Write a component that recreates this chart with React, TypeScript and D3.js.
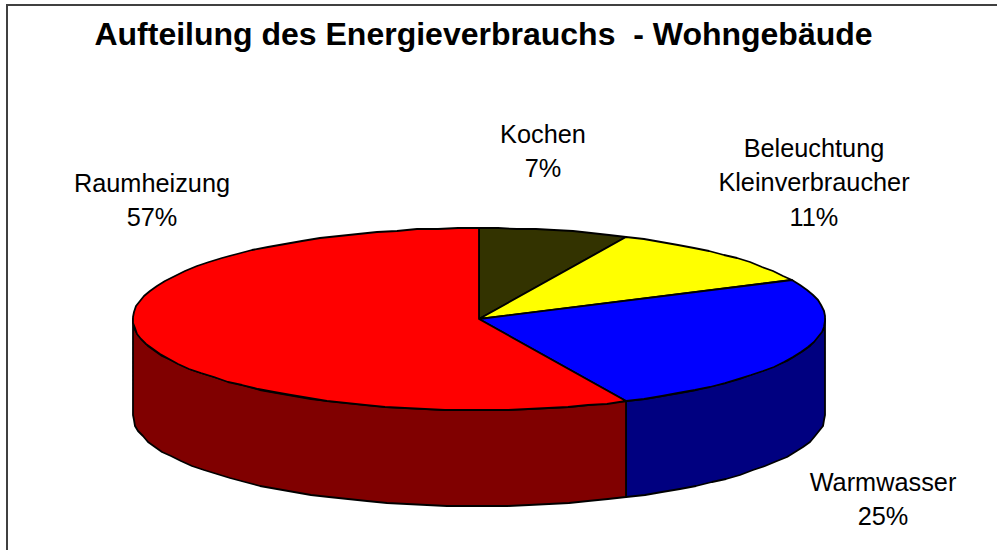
import React from "react";
import * as d3 from "d3";

const categories = ["Kochen", "Beleuchtung Kleinverbraucher", "Warmwasser", "Raumheizung"];
const values = [7, 11, 25, 57];
const topColors = ["#333300", "#ffff00", "#0000ff", "#ff0000"];
const sideColors = ["#1a1a00", "#808000", "#000080", "#800000"];
const labelLines = [["Kochen", "7%"], ["Beleuchtung", "Kleinverbraucher", "11%"], ["Warmwasser", "25%"], ["Raumheizung", "57%"]];
const labelAnchors: [number, number][] = [[543, 143], [814, 157], [883, 491], [152, 192]];
const title = "Aufteilung des Energieverbrauchs  - Wohngebäude";

const W = 997, H = 550;
const FONT = "'Liberation Sans', Arial, sans-serif";
const cx = 479, cy = 319, rx = 346, ry = 91, depth = 96;

const px = d3.scaleLinear().domain([-1, 1]).range([cx - rx, cx + rx]);
const py = d3.scaleLinear().domain([-1, 1]).range([cy - ry, cy + ry]);
const pie = d3.pie<number>().sort(null);
const arcs = pie(values);

const line = d3.line<[number, number]>();
const pt = (a: number, dy = 0): [number, number] => [Math.round(px(Math.sin(a))), Math.round(py(-Math.cos(a))) + dy];
const sample = (a0: number, a1: number, dy = 0): [number, number][] => {
  const n = Math.max(2, Math.ceil(Math.abs(a1 - a0) / 0.06));
  return d3.range(0, n + 1).map((i) => pt(a0 + ((a1 - a0) * i) / n, dy));
};

const topPath = (a0: number, a1: number) =>
  line([[cx, cy], ...sample(a0, a1)])! + "Z";
const sidePath = (a0: number, a1: number) =>
  line([...sample(a0, a1), ...sample(a1, a0, depth)])! + "Z";

export default function App() {
  const rightEdge = Math.PI / 2;
  const leftEdge = (3 * Math.PI) / 2;
  return (
    <svg width={W} height={H} style={{ position: "absolute", left: 0, top: 0, background: "#fff" }}>
      <path d={`M7,${H}V5H${W}`} fill="none" stroke="#404040" strokeWidth={2} />
      <text x={483.5} y={45} textAnchor="middle" fontFamily={FONT} fontWeight="bold" fontSize={32}
        style={{ whiteSpace: "pre" }} fill="#000">{title}</text>
      {arcs.map((a, i) => {
        const s = Math.max(a.startAngle, rightEdge);
        const e = Math.min(a.endAngle, leftEdge);
        return e > s ? (
          <path key={"s" + categories[i]} d={sidePath(s, e)} fill={sideColors[i]} stroke="#000" strokeWidth={1.8} strokeLinejoin="round" />
        ) : null;
      })}
      {arcs.map((a, i) => (
        <path key={"t" + categories[i]} d={topPath(a.startAngle, a.endAngle)} fill={topColors[i]} stroke="#000" strokeWidth={1.8} strokeLinejoin="round" />
      ))}
      {labelLines.map((ls, i) => (
        <g key={categories[i]}>
          {ls.map((t, j) => (
            <text key={t} x={labelAnchors[i][0]} y={labelAnchors[i][1] + j * 34.3} textAnchor="middle"
              fontFamily={FONT} fontSize={25.3} fill="#000">{t}</text>
          ))}
        </g>
      ))}
    </svg>
  );
}
